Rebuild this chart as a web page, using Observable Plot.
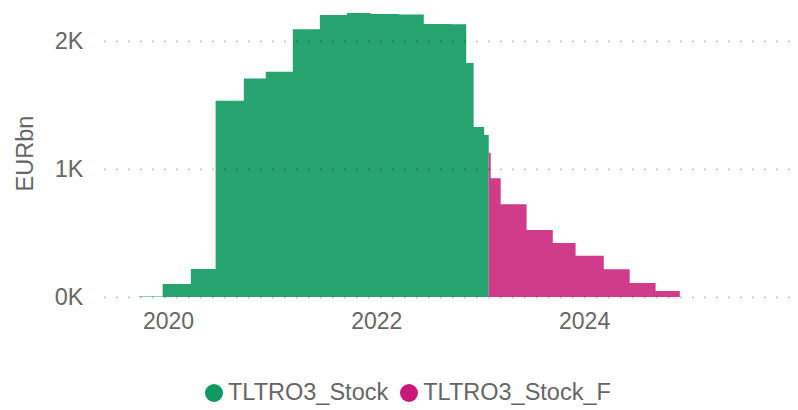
<!DOCTYPE html>
<html><head><meta charset="utf-8">
<script src="https://cdn.jsdelivr.net/npm/d3@7"></script>
<script src="https://cdn.jsdelivr.net/npm/@observablehq/plot@0.6"></script>
<style>
body{margin:0;background:#fff;font-family:"Liberation Sans",Arial,sans-serif;}
#wrap{position:relative;width:798px;height:410px;overflow:hidden;}
#legend{position:absolute;left:205px;top:379px;display:flex;align-items:center;font-size:23.5px;color:#666;white-space:nowrap;line-height:27px;}
.item{display:flex;align-items:center;margin-right:12px;}
.sw{display:inline-block;width:18px;height:18px;border-radius:50%;margin-right:5px;}
</style></head><body>
<div id="wrap"><div id="chart"></div><div id="legend"></div></div>
<script>
const seriesNames = ["TLTRO3_Stock", "TLTRO3_Stock_F"];
const legendColors = ["#0f9960", "#c8197a"];
const areaColors = ["#27a370", "#d03c8a"];

// Outstanding TLTRO III stock (EURbn), step changes
const stockDates = ["2019-09-20","2019-12-13","2020-03-21","2020-06-16","2020-09-23","2020-12-09",
  "2021-03-14","2021-06-17","2021-09-20","2021-12-13","2022-03-21","2022-06-17","2022-09-20",
  "2022-11-13","2022-12-09","2023-01-15","2023-01-31"];
const stockValues = [3.4, 101, 219, 1534, 1708, 1760, 2091, 2203, 2219, 2211, 2208, 2133, 2130,
  1828, 1328, 1266, 1266];

// Projected stock (EURbn)
const forecastDates = ["2023-01-31","2023-02-07","2023-03-14","2023-06-13","2023-09-13","2023-12-02",
  "2024-03-10","2024-06-09","2024-09-08","2024-12-02"];
const forecastValues = [1127, 927, 724, 523, 422, 323, 216, 109, 47, 47];

const yTicks = [0, 1000, 2000];
const yTickLabels = ["0K", "1K", "2K"];
const xTicks = ["2020-01-01", "2022-01-01", "2024-01-01"];
const xTickLabels = ["2020", "2022", "2024"];
const xDomain = ["2019-05-21", "2025-12-24"];
const yDomain = [0, 2250];

const data = [
  ...stockDates.map((d, i) => ({date: new Date(d), value: stockValues[i], series: seriesNames[0]})),
  ...forecastDates.map((d, i) => ({date: new Date(d), value: forecastValues[i], series: seriesNames[1]}))
];
const xTickDates = xTicks.map(d => new Date(d));

const chart = Plot.plot({
  width: 798, height: 340,
  marginLeft: 104, marginRight: 8, marginTop: 9, marginBottom: 43,
  style: {fontFamily: "'Liberation Sans', Arial, sans-serif", fontSize: "23px", color: "#666", background: "#fff"},
  x: {type: "utc", domain: xDomain.map(d => new Date(d))},
  y: {domain: yDomain},
  color: {domain: seriesNames, range: areaColors},
  marks: [
    Plot.areaY(data, {x: "date", y1: 0, y2: "value", z: "series", fill: "series", curve: "step-after"}),
    Plot.ruleY(yTicks, {stroke: "#000", strokeOpacity: 0.2, strokeWidth: 2, strokeDasharray: "2,10"}),
    Plot.axisY(yTicks, {tickSize: 0, tickPadding: 21, tickFormat: d => yTickLabels[yTicks.indexOf(d)],
      label: "EURbn", labelAnchor: "center", labelArrow: "none", labelOffset: 88, fontSize: 23.5}),
    Plot.axisX(xTickDates, {tickSize: 0, tickPadding: 15,
      tickFormat: d => xTickLabels[xTickDates.findIndex(t => +t === +d)], label: null})
  ]
});
document.getElementById("chart").appendChild(chart);

const legend = document.getElementById("legend");
seriesNames.forEach((name, i) => {
  const item = document.createElement("div");
  item.className = "item";
  const sw = document.createElement("span");
  sw.className = "sw";
  sw.style.background = legendColors[i];
  const label = document.createElement("span");
  label.textContent = name;
  item.appendChild(sw);
  item.appendChild(label);
  legend.appendChild(item);
});
</script>
</body></html>
